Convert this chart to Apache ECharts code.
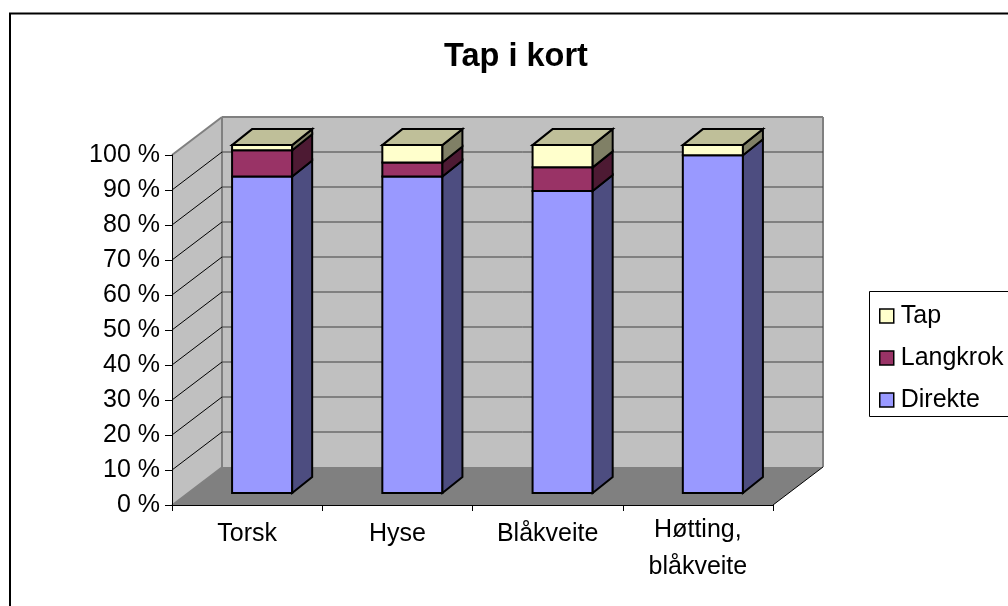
<!DOCTYPE html>
<html>
<head>
<meta charset="utf-8">
<style>html,body{margin:0;padding:0;background:#fff;overflow:hidden}#c{width:1008px;height:606px}</style>
<script src="https://cdn.jsdelivr.net/npm/echarts@6/dist/echarts.min.js"></script>
</head>
<body>
<div id="c"></div>
<script>
const categories = ['Torsk', 'Hyse', 'Blåkveite', 'Høtting,\nblåkveite'];
const direkte = [91, 91, 86.8, 97.1];
const langkrok = [7.5, 4, 6.8, 0];
const tap = [1.5, 5, 6.4, 2.9];
const gridTicks = [10, 20, 30, 40, 50, 60, 70, 80, 90];
const FONT = '"Liberation Sans", Arial, sans-serif';

// 3D projection look (pixels)
const WALL_DX = 50, WALL_DY = -38;
const BAR_DX = 15, BAR_DY = -12;
const SIDE_DX = 20, SIDE_DY = -16;
const BAR_RATIO = 0.4, BAR_SCALE = 0.994;

function poly(points, fill, stroke, lw) {
  return { type: 'polygon', shape: { points }, style: { fill, stroke: stroke || 'none', lineWidth: lw || 0 } };
}
function line(p1, p2, stroke, lw) {
  return { type: 'line', shape: { x1: p1[0], y1: p1[1], x2: p2[0], y2: p2[1] }, style: { stroke, lineWidth: lw } };
}
function shift(p, dx, dy) { return [p[0] + dx, p[1] + dy]; }

function wallsItem(params, api) {
  const band = api.size([1, 0])[0];
  const xl = api.coord([0, 0])[0] - band / 2;
  const xr = api.coord([categories.length - 1, 0])[0] + band / 2;
  const y0 = api.coord([0, 0])[1];
  const yT = api.coord([0, 100])[1];
  const fl = [xl, y0], fr = [xr, y0], tl = [xl, yT];
  const bl = shift(fl, WALL_DX, WALL_DY), br = shift(fr, WALL_DX, WALL_DY);
  const btl = shift(tl, WALL_DX, WALL_DY), btr = [br[0], btl[1]];
  return { type: 'group', children: [
    poly([bl, br, btr, btl], '#c0c0c0'),
    poly([fl, bl, btl, tl], '#c0c0c0'),
    poly([fl, fr, br, bl], '#808080'),
    line(tl, btl, '#808080', 2),
    line(btl, btr, '#808080', 2),
    line(btl, bl, '#808080', 2),
    line(btr, br, '#808080', 2),
    line(fl, bl, '#808080', 1.5),
    line(fr, br, '#000000', 1)
  ]};
}
function gridItem(params, api) {
  const band = api.size([1, 0])[0];
  const xl = api.coord([0, 0])[0] - band / 2;
  const xr = api.coord([categories.length - 1, 0])[0] + band / 2;
  const y = api.coord([0, api.value(0)])[1];
  const a = [xl, y], b = shift(a, WALL_DX, WALL_DY), c = [xr + WALL_DX, b[1]];
  return { type: 'group', children: [ line(a, b, '#000000', 1), line(b, c, '#404040', 1) ]};
}
function barItem(front, side, topColor, withTop) {
  return function (params, api) {
    const i = api.value(0), lo = api.value(1), hi = api.value(2);
    if (hi - lo <= 0) return null;
    const band = api.size([1, 0])[0], w = band * BAR_RATIO;
    const c0 = api.coord([i, 0]);
    const yOf = v => c0[1] + BAR_DY - (c0[1] - api.coord([i, v])[1]) * BAR_SCALE;
    const x0 = c0[0] + BAR_DX - w / 2, x1 = x0 + w;
    const yb = yOf(lo), yt = yOf(hi);
    const s = { stroke: '#000000', lw: 2 };
    const children = [
      poly([[x0, yb], [x1, yb], [x1, yt], [x0, yt]], front, s.stroke, s.lw),
      poly([[x1, yb], [x1 + SIDE_DX, yb + SIDE_DY], [x1 + SIDE_DX, yt + SIDE_DY], [x1, yt]], side, s.stroke, s.lw)
    ];
    if (withTop) {
      children.push(poly([[x0, yt], [x1, yt], [x1 + SIDE_DX, yt + SIDE_DY], [x0 + SIDE_DX, yt + SIDE_DY]], topColor, s.stroke, s.lw));
    }
    return { type: 'group', children };
  };
}
function stacked(values, below) {
  return values.map((v, i) => {
    const lo = below.reduce((sum, arr) => sum + arr[i], 0);
    return [i, lo, lo + v];
  });
}
const option = {
  animation: false,
  backgroundColor: '#ffffff',
  title: {
    text: 'Tap i kort', left: 511, top: 36, textAlign: 'center',
    textStyle: { fontFamily: FONT, fontSize: 32.5, fontWeight: 'bold', color: '#000' }
  },
  grid: { left: 172, top: 155, width: 601, height: 350 },
  xAxis: {
    type: 'category', z: 10,
    data: categories.map(c => c.indexOf('\n') < 0 ? { value: c, textStyle: { padding: [4, 0, 0, 0] } } : c),
    axisLine: { lineStyle: { color: '#000', width: 1 } },
    axisTick: { show: true, alignWithLabel: false, length: 6, lineStyle: { color: '#000' } },
    axisLabel: { interval: 0, fontFamily: FONT, fontSize: 25, color: '#000', margin: 7, lineHeight: 37, hideOverlap: false },
    splitLine: { show: false }
  },
  yAxis: {
    type: 'value', min: 0, max: 100, interval: 10, z: 10,
    axisLine: { show: true, lineStyle: { color: '#000', width: 1 } },
    axisTick: { show: true, length: 7, lineStyle: { color: '#000' } },
    axisLabel: { formatter: '{value} %', fontFamily: FONT, fontSize: 25, color: '#000', margin: 12 },
    splitLine: { show: false }
  },
  legend: {
    orient: 'vertical', left: 874, top: 295, itemWidth: 14, itemHeight: 14, itemGap: 10,
    icon: 'rect',
    textStyle: { fontFamily: FONT, fontSize: 25, color: '#000', padding: [0, 0, 6, 2], lineHeight: 26 },
    data: [
      { name: 'Tap', itemStyle: { color: '#ffffcc', borderColor: '#000', borderWidth: 1.5 } },
      { name: 'Langkrok', itemStyle: { color: '#993366', borderColor: '#000', borderWidth: 1.5 } },
      { name: 'Direkte', itemStyle: { color: '#9999ff', borderColor: '#000', borderWidth: 1.5 } }
    ]
  },
  graphic: [
    { type: 'rect', silent: true, z: -1, shape: { x: 10, y: 13.5, width: 1200, height: 800 }, style: { fill: 'none', stroke: '#000', lineWidth: 2 } },
    { type: 'rect', silent: true, z: 1, shape: { x: 869.5, y: 291.5, width: 300, height: 125 }, style: { fill: '#fff', stroke: '#000', lineWidth: 1 } }
  ],
  series: [
    { type: 'custom', name: 'walls', silent: true, z: 1, renderItem: wallsItem, data: [[0]], encode: { x: 0 }, clip: false },
    { type: 'custom', name: 'grid', silent: true, z: 1, renderItem: gridItem, data: gridTicks.map(v => [v]), encode: { y: 0 }, clip: false },
    { type: 'custom', name: 'Direkte', z: 2, clip: false, renderItem: barItem('#9999ff', '#4d4d80', null, false),
      itemStyle: { color: '#9999ff' }, encode: { x: 0, y: [1, 2] }, data: stacked(direkte, []) },
    { type: 'custom', name: 'Langkrok', z: 3, clip: false, renderItem: barItem('#993366', '#4d1a33', null, false),
      itemStyle: { color: '#993366' }, encode: { x: 0, y: [1, 2] }, data: stacked(langkrok, [direkte]) },
    { type: 'custom', name: 'Tap', z: 4, clip: false, renderItem: barItem('#ffffcc', '#808066', '#bfbf99', true),
      itemStyle: { color: '#ffffcc' }, encode: { x: 0, y: [1, 2] }, data: stacked(tap, [direkte, langkrok]) }
  ]
};
echarts.init(document.getElementById('c'), null, { renderer: 'canvas' }).setOption(option);
</script>
</body>
</html>
